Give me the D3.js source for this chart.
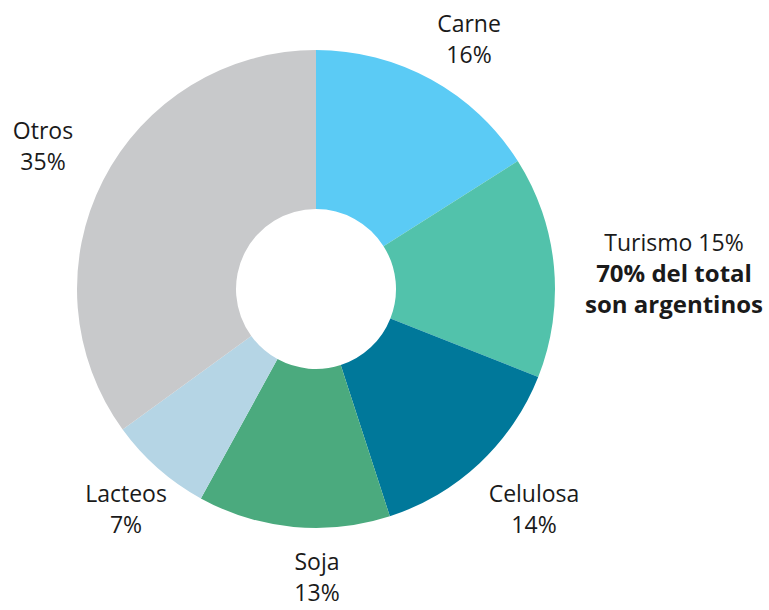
<!DOCTYPE html>
<html><head><meta charset="utf-8">
<script src="https://cdn.jsdelivr.net/npm/d3@7"></script>
<style>body{margin:0;background:#fff}svg{display:block}</style>
</head><body>
<script>
const categories = ["Carne","Turismo","Celulosa","Soja","Lacteos","Otros"];
const values = [16,15,14,13,7,35];
const colors = ["#5BCBF5","#52C2AB","#00789A","#4BAA7E","#B5D5E5","#C8C9CB"];
const labelLines = [
  [["Carne",false],["16%",false]],
  [["Turismo 15%",false],["70% del total",true],["son argentinos",true]],
  [["Celulosa",false],["14%",false]],
  [["Soja",false],["13%",false]],
  [["Lacteos",false],["7%",false]],
  [["Otros",false],["35%",false]]
];
const labelPos = [[469,32],[674,251],[534,502],[317,570],[126,502],[43,139]];

const W=769,H=610,cx=316,cy=289,R=239,r=80;
const svg=d3.select("body").append("svg").attr("width",W).attr("height",H);
const pie=d3.pie().sort(null).value(d=>d)(values);
const arc=d3.arc().innerRadius(r).outerRadius(R);
const g=svg.append("g").attr("transform",`translate(${cx},${cy})`);
g.selectAll("path").data(pie).enter().append("path")
  .attr("d",arc).attr("fill",(d,i)=>colors[i]);

const lg=svg.append("g").attr("font-family","'Open Sans','Noto Sans',sans-serif").attr("font-size",23).attr("fill","#1a1a1a");
labelLines.forEach((lines,i)=>{
  const t=lg.append("text").attr("text-anchor","middle").attr("x",labelPos[i][0]).attr("y",labelPos[i][1]);
  lines.forEach((l,j)=>{
    t.append("tspan").attr("x",labelPos[i][0]).attr("y",labelPos[i][1]+j*31)
      .attr("font-weight",l[1]?"bold":"normal").attr("font-size",l[1]?24:23).text(l[0]);
  });
});
</script>
</body></html>
